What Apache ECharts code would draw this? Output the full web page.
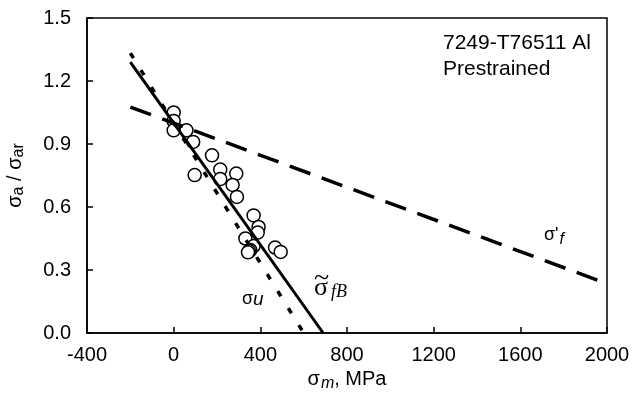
<!DOCTYPE html>
<html>
<head>
<meta charset="utf-8">
<script src="https://cdn.jsdelivr.net/npm/echarts@6/dist/echarts.min.js"></script>
<style>
  html, body { margin: 0; padding: 0; background: #fff; }
  #chart { width: 632px; height: 411px; }
</style>
</head>
<body>
<div id="chart"></div>
<script>
// measured points (sigma_m in MPa, sigma_a / sigma_ar)
const pointsX = [0, 0, 0, 59, 90, 177, 97, 215, 289, 215, 272, 292, 369, 392, 388, 331, 369, 354, 348, 343, 468, 494]
const pointsY = [1.05, 1.01, 0.965, 0.965, 0.91, 0.846, 0.752, 0.778, 0.759, 0.733, 0.705, 0.648, 0.56, 0.505, 0.478, 0.45, 0.414, 0.395, 0.39, 0.384, 0.407, 0.386]

// fitted lines, end points
const lineFB = [[-200, 1.29], [690, 0]]
const lineU = [[-200, 1.333], [600, 0]]
const lineF = [[-200, 1.076], [2000, 0.235]]

const xTicks = { min: -400, max: 2000, interval: 400 }
const yTicks = { min: 0, max: 1.5, interval: 0.3 }

const chart = echarts.init(document.getElementById('chart'))

const axisCommon = {
  axisLine: { show: true, onZero: false, lineStyle: { color: '#000', width: 1.5 } },
  axisTick: { show: true, inside: true, length: 6, lineStyle: { color: '#000', width: 1.5 } },
  splitLine: { show: false },
  axisLabel: { color: '#000', fontSize: 20, fontFamily: 'Liberation Sans, Arial' }
}

const option = {
  animation: false,
  backgroundColor: '#fff',
  grid: {
    left: 87,
    right: 25,
    top: 18,
    bottom: 78,
    outerBoundsMode: 'none',
    containLabel: false,
    show: true,
    borderColor: '#000',
    borderWidth: 1.5
  },
  xAxis: {
    type: 'value',
    min: xTicks.min,
    max: xTicks.max,
    interval: xTicks.interval,
    ...axisCommon,
    axisLabel: { ...axisCommon.axisLabel, margin: 12, formatter: v => String(v) },
    name: '{s|σ}{sub|m}{t|, MPa}',
    nameLocation: 'middle',
    nameGap: 36,
    nameTextStyle: {
      rich: {
        s: { fontSize: 20, fontFamily: 'Liberation Sans', color: '#000', verticalAlign: 'top', lineHeight: 22 },
        sub: { fontSize: 16, fontFamily: 'Liberation Sans', fontStyle: 'italic', color: '#000', verticalAlign: 'top', lineHeight: 22, padding: [6, 0, 0, 1] },
        t: { fontSize: 20, fontFamily: 'Liberation Sans', color: '#000', verticalAlign: 'top', lineHeight: 22 }
      }
    }
  },
  yAxis: {
    type: 'value',
    min: yTicks.min,
    max: yTicks.max,
    interval: yTicks.interval,
    ...axisCommon,
    axisLabel: { ...axisCommon.axisLabel, margin: 16, formatter: v => v.toFixed(1) },
    name: '{s|σ}{sub|a}{s| / σ}{sub|ar}',
    nameLocation: 'middle',
    nameRotate: 90,
    nameGap: 60,
    nameTextStyle: {
      rich: {
        s: { fontSize: 20, fontFamily: 'Liberation Sans', color: '#000', verticalAlign: 'top', lineHeight: 22 },
        sub: { fontSize: 16, fontFamily: 'Liberation Sans', color: '#000', verticalAlign: 'top', lineHeight: 22, padding: [6, 0, 0, 0] }
      }
    }
  },
  series: [
    {
      type: 'scatter',
      data: pointsX.map((x, i) => [x, pointsY[i]]),
      symbol: 'circle',
      symbolSize: 13,
      itemStyle: { color: '#fff', borderColor: '#000', borderWidth: 1.5, opacity: 1 },
      z: 2
    },
    {
      type: 'line',
      data: lineFB,
      symbol: 'none',
      lineStyle: { color: '#000', width: 3, type: 'solid' },
      z: 3
    },
    {
      type: 'line',
      data: lineU,
      symbol: 'none',
      lineStyle: { color: '#000', width: 3.5, type: [6, 14] },
      z: 3
    },
    {
      type: 'line',
      data: lineF,
      symbol: 'none',
      lineStyle: { color: '#000', width: 3.5, type: [22, 12] },
      z: 3
    }
  ],
  graphic: [
    {
      type: 'text', left: 443, top: 33,
      style: { text: '7249-T76511 Al', fontSize: 21, fontFamily: 'Liberation Sans', fill: '#000' }
    },
    {
      type: 'text', left: 443, top: 59,
      style: { text: 'Prestrained', fontSize: 21, fontFamily: 'Liberation Sans', fill: '#000' }
    },
    {
      type: 'text', left: 242, top: 290,
      style: {
        text: '{s|σ}{u|u}',
        rich: {
          s: { fontSize: 18, fontFamily: 'Liberation Sans', fill: '#000' },
          u: { fontSize: 19, fontFamily: 'Liberation Sans', fontStyle: 'italic', fill: '#000' }
        }
      }
    },
    {
      type: 'text',
      style: { x: 314, y: 288, text: 'σ', textVerticalAlign: 'middle', fontSize: 26, fontFamily: 'Liberation Serif', fill: '#000' }
    },
    {
      type: 'text',
      style: { x: 314, y: 279, text: '~', textVerticalAlign: 'middle', fontSize: 28, fontFamily: 'Liberation Serif', fill: '#000' }
    },
    {
      type: 'text',
      style: { x: 331, y: 292, text: 'fB', textVerticalAlign: 'middle', fontSize: 18, fontStyle: 'italic', fontFamily: 'Liberation Serif', fill: '#000' }
    },
    {
      type: 'text', left: 544, top: 226,
      style: {
        text: "{s|σ'}{f|f}",
        rich: {
          s: { fontSize: 18, fontFamily: 'Liberation Sans', fill: '#000', verticalAlign: 'top', lineHeight: 20 },
          f: { fontSize: 16, fontFamily: 'Liberation Sans', fontStyle: 'italic', fill: '#000', verticalAlign: 'top', lineHeight: 20, padding: [6, 0, 0, 1] }
        }
      }
    }
  ]
}

chart.setOption(option)
</script>
</body>
</html>
